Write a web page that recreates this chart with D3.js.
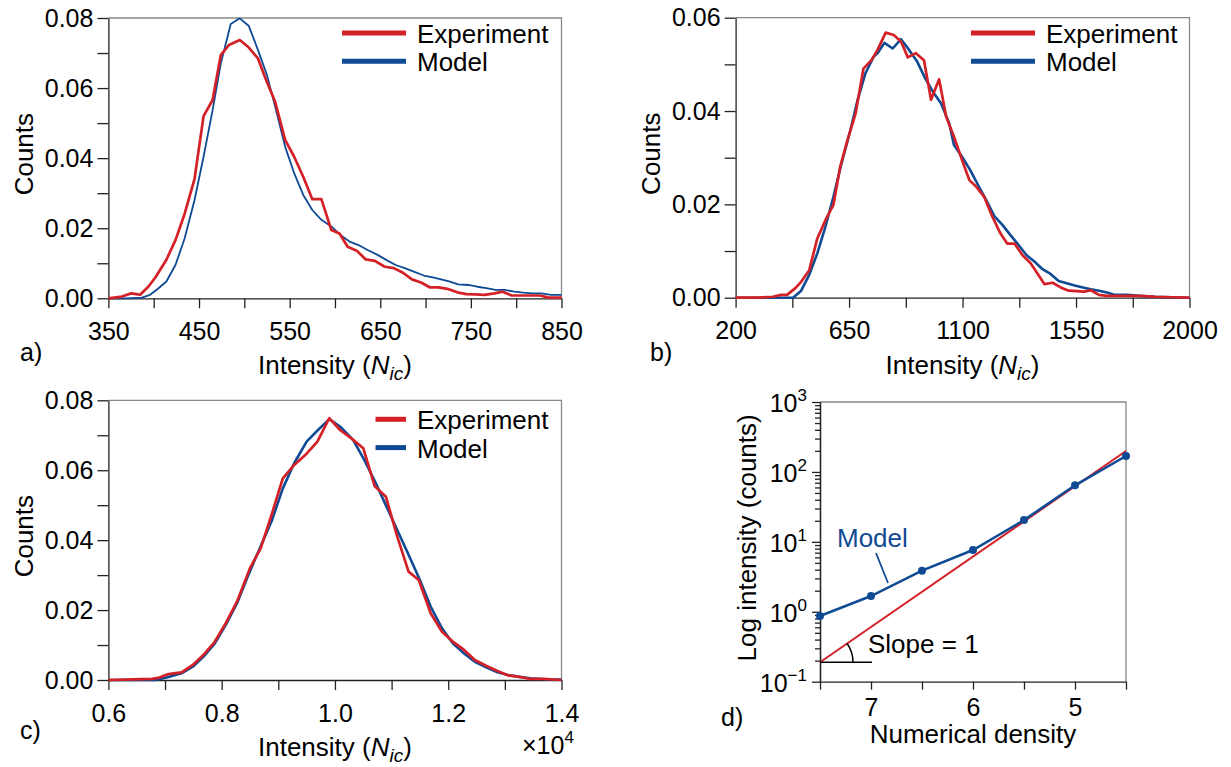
<!DOCTYPE html>
<html>
<head>
<meta charset="utf-8">
<script src="https://cdnjs.cloudflare.com/ajax/libs/d3/7.8.5/d3.min.js"></script>
<style>
  body { margin: 0; background: #fff; }
  svg text { font-family: "Liberation Sans", Arial, sans-serif; fill: #000; }
</style>
</head>
<body>
<svg id="chart" width="1231" height="767"></svg>
<script>
var red = "#d42027", blue = "#0f4a94";

// panel a: intensity vs counts
var aExp = [[350,0],[365,0.0005],[375,0.0014],[381,0.0012],[385,0.001],[394,0.0033],[402,0.006],[414,0.011],[424,0.0166],[434,0.024],[445,0.034],[455,0.052],[465,0.0566],[474,0.0694],[483,0.0723],[495,0.0737],[504,0.0718],[515,0.0685],[524,0.0623],[534,0.0561],[545,0.0452],[555,0.0404],[565,0.0347],[575,0.0283],[585,0.0283],[596,0.0195],[605,0.0185],[614,0.0147],[624,0.0136],[634,0.0111],[644,0.0107],[655,0.009],[665,0.0086],[675,0.0073],[685,0.0054],[695,0.0045],[705,0.0031],[714,0.0031],[724,0.0027],[735,0.0017],[745,0.0012],[755,0.0011],[765,0.001],[776,0.0014],[785,0.0019],[795,0.0008],[806,0.0008],[816,0.0008],[826,0.0008],[836,0.0002],[850,0.0002]];
var aModel = [[350,0],[369,0],[387,0.0002],[396,0.001],[404,0.0026],[414,0.0048],[424,0.0095],[434,0.017],[445,0.028],[455,0.0404],[465,0.0537],[474,0.067],[485,0.0783],[495,0.0799],[505,0.0777],[515,0.0709],[525,0.0637],[534,0.0547],[545,0.0433],[555,0.0357],[565,0.0295],[575,0.0252],[585,0.0224],[596,0.0205],[606,0.0181],[616,0.0162],[626,0.0152],[636,0.0138],[647,0.0124],[657,0.0109],[667,0.0095],[677,0.0086],[687,0.0076],[698,0.0065],[708,0.006],[716,0.0055],[726,0.0048],[736,0.004],[747,0.0038],[757,0.0033],[767,0.0029],[777,0.0024],[787,0.0024],[798,0.0019],[808,0.0016],[818,0.0014],[828,0.0014],[838,0.001],[850,0.001]];
var aTicksX = [350,400,450,500,550,600,650,700,750,800,850];
var aLabelsX = ["350","","450","","550","","650","","750","","850"];
var aTicksY = [0,0.01,0.02,0.03,0.04,0.05,0.06,0.07,0.08];
var aLabelsY = ["0.00","","0.02","","0.04","","0.06","","0.08"];

// panel b
var bExp = [[200,0],[285,0],[348,0.0002],[380,0.0006],[404,0.0006],[436,0.002],[460,0.0034],[492,0.0059],[524,0.0127],[556,0.0166],[588,0.0199],[615,0.0281],[644,0.0338],[676,0.0395],[707,0.0491],[739,0.0509],[763,0.0531],[795,0.0568],[827,0.0563],[856,0.0549],[883,0.0515],[915,0.0524],[947,0.0509],[975,0.0424],[1007,0.0468],[1035,0.0388],[1066,0.0345],[1098,0.0295],[1127,0.0252],[1154,0.0238],[1186,0.0216],[1218,0.0174],[1250,0.0138],[1277,0.0116],[1306,0.0116],[1338,0.0091],[1370,0.0074],[1397,0.0052],[1425,0.0029],[1457,0.0032],[1489,0.0022],[1521,0.0015],[1553,0.0014],[1582,0.0013],[1609,0.0016],[1641,0.0006],[1673,0.0004],[1737,0.0004],[1800,0.0004],[1864,0.0002],[1928,0.0001],[2000,0]];
var bModel = [[200,0],[428,0],[460,0.0015],[492,0.0049],[524,0.0095],[556,0.0152],[588,0.0216],[620,0.0288],[652,0.0352],[684,0.0424],[715,0.0481],[747,0.0516],[763,0.0524],[790,0.0546],[823,0.0534],[856,0.0554],[888,0.0531],[920,0.0506],[952,0.047],[983,0.0441],[1015,0.0416],[1047,0.0374],[1066,0.0327],[1098,0.0302],[1130,0.0274],[1162,0.0241],[1194,0.0209],[1226,0.0175],[1258,0.0156],[1290,0.0134],[1322,0.0113],[1354,0.0091],[1386,0.0077],[1417,0.0061],[1449,0.0051],[1481,0.0036],[1513,0.0031],[1545,0.0026],[1577,0.0022],[1609,0.0018],[1641,0.0015],[1673,0.0011],[1705,0.0006],[1753,0.0006],[1800,0.0004],[1864,0.0002],[1928,0.0001],[2000,0]];
var bTicksX = [200,425,650,875,1100,1325,1550,1775,2000];
var bLabelsX = ["200","","650","","1100","","1550","","2000"];
var bTicksY = [0,0.01,0.02,0.03,0.04,0.05,0.06];
var bLabelsY = ["0.00","","0.02","","0.04","","0.06"];

// panel c (intensity in units of 1e4)
var cExp = [[0.6,0],[0.644,0.0002],[0.677,0.0003],[0.69,0.0007],[0.706,0.0017],[0.729,0.0022],[0.749,0.0043],[0.768,0.0072],[0.788,0.011],[0.807,0.0162],[0.827,0.0224],[0.85,0.032],[0.869,0.0377],[0.889,0.0477],[0.908,0.0577],[0.928,0.0615],[0.948,0.0644],[0.969,0.0682],[0.99,0.0749],[1.009,0.0715],[1.029,0.0691],[1.05,0.0663],[1.07,0.0555],[1.09,0.0524],[1.11,0.041],[1.13,0.031],[1.148,0.0286],[1.169,0.0191],[1.189,0.0138],[1.208,0.011],[1.228,0.0086],[1.247,0.0057],[1.267,0.0041],[1.287,0.0026],[1.306,0.0013],[1.326,0.0009],[1.345,0.0003],[1.368,0.0003],[1.4,0]];
var cModel = [[0.6,0],[0.683,0],[0.703,0.0007],[0.729,0.0019],[0.749,0.0038],[0.768,0.0067],[0.788,0.0105],[0.807,0.0157],[0.827,0.0219],[0.846,0.0296],[0.866,0.0372],[0.889,0.0458],[0.908,0.0548],[0.928,0.062],[0.95,0.0682],[0.97,0.0715],[0.99,0.0746],[1.009,0.0725],[1.032,0.0687],[1.052,0.0629],[1.071,0.0567],[1.091,0.0496],[1.11,0.0429],[1.13,0.0358],[1.15,0.0286],[1.169,0.021],[1.189,0.0148],[1.208,0.0105],[1.228,0.0076],[1.247,0.0052],[1.267,0.0036],[1.287,0.0022],[1.306,0.0014],[1.326,0.0009],[1.345,0.0005],[1.371,0.0002],[1.4,0.0001]];
var cTicksX = [0.6,0.7,0.8,0.9,1.0,1.1,1.2,1.3,1.4];
var cLabelsX = ["0.6","","0.8","","1.0","","1.2","","1.4"];

// panel d: log intensity vs numerical density
var dModel = [[7.5,0.87],[7.0,1.68],[6.5,3.87],[6.0,7.64],[5.5,20.5],[5.0,64.3],[4.5,169]];
var dSlope = [[7.5,0.19],[4.5,199]];
var dTicksX = [7.5,7,6.5,6,5.5,5,4.5];
var dLabelsX = ["","7","","6","","5",""];
var dTicksY = [0.1,1,10,100,1000];
var dExpY = ["\u22121","0","1","2","3"];

var svg = d3.select("#chart");

function styleAxis(sel) {
  sel.select(".domain").attr("stroke", "#222").attr("stroke-width", 1.3);
  sel.selectAll(".tick line").attr("stroke", "#222").attr("stroke-width", 1.3);
  sel.selectAll(".tick text").attr("font-size", 25).attr("fill", "#000")
    .attr("font-family", "Liberation Sans, Arial, sans-serif");
}

function intensityLabel(g, cx, y) {
  var t = g.append("text").attr("x", cx).attr("y", y).attr("text-anchor", "middle").style("font-size", "26px");
  t.append("tspan").text("Intensity (");
  t.append("tspan").style("font-style", "italic").text("N");
  t.append("tspan").style("font-style", "italic").style("font-size", "19px").attr("dy", 6).text("ic");
  t.append("tspan").attr("dy", -6).text(")");
}

function histPanel(p) {
  var g = svg.append("g");
  var x = d3.scaleLinear().domain(p.xDomain).range([p.left, p.right]);
  var y = d3.scaleLinear().domain(p.yDomain).range([p.bottom, p.top]);

  // grey frame on top and right
  g.append("path")
    .attr("d", "M" + p.left + "," + p.top + "H" + p.right + "V" + p.bottom)
    .attr("fill", "none").attr("stroke", "#888").attr("stroke-width", 1.3);

  g.append("g")
    .attr("transform", "translate(0," + p.bottom + ")")
    .call(d3.axisBottom(x).tickValues(p.xTicks).tickSize(10).tickSizeOuter(0).tickPadding(14)
      .tickFormat(function(d, i) { return p.xLabels[i]; }))
    .call(styleAxis);

  g.append("g")
    .attr("transform", "translate(" + p.left + ",0)")
    .call(d3.axisLeft(y).tickValues(p.yTicks).tickSize(11).tickSizeOuter(0).tickPadding(4)
      .tickFormat(function(d, i) { return p.yLabels[i]; }))
    .call(styleAxis);

  var line = d3.line().x(d => x(d[0])).y(d => y(d[1]));

  g.append("path").datum(p.model).attr("d", line)
    .attr("fill", "none").attr("stroke", blue).attr("stroke-width", p.modelWidth).attr("stroke-linejoin", "round");
  g.append("path").datum(p.exp).attr("d", line)
    .attr("fill", "none").attr("stroke", red).attr("stroke-width", p.expWidth).attr("stroke-linejoin", "round");

  // legend
  var names = ["Experiment", "Model"], cols = [red, blue];
  names.forEach(function(n, i) {
    var ly = p.legY + i * 28.3;
    g.append("line").attr("x1", p.legX1).attr("x2", p.legX2).attr("y1", ly).attr("y2", ly)
      .attr("stroke", cols[i]).attr("stroke-width", 5);
    g.append("text").attr("x", p.legText).attr("y", ly + 10).style("font-size", "26px").text(n);
  });

  g.append("text")
    .attr("transform", "translate(" + p.countsX + "," + ((p.top + p.bottom) / 2 - 4) + ") rotate(-90)")
    .attr("text-anchor", "middle").style("font-size", "26px").text("Counts");

  intensityLabel(g, (p.left + p.right) / 2, p.bottom + 76);

  g.append("text").attr("x", p.tagX).attr("y", p.tagY).style("font-size", "25px").text(p.tag);
  return g;
}

histPanel({
  left: 108.4, right: 561.5, top: 18, bottom: 298.3,
  xDomain: [350, 850], yDomain: [0, 0.08],
  xTicks: aTicksX, xLabels: aLabelsX, yTicks: aTicksY, yLabels: aLabelsY,
  exp: aExp, model: aModel, expWidth: 2.7, modelWidth: 1.8,
  legX1: 342, legX2: 406, legText: 417, legY: 33,
  countsX: 33, tag: "a)", tagX: 20, tagY: 361
});

histPanel({
  left: 735.6, right: 1189.5, top: 17.7, bottom: 297.7,
  xDomain: [200, 2000], yDomain: [0, 0.06],
  xTicks: bTicksX, xLabels: bLabelsX, yTicks: bTicksY, yLabels: bLabelsY,
  exp: bExp, model: bModel, expWidth: 2.7, modelWidth: 2.6,
  legX1: 971, legX2: 1035, legText: 1046, legY: 33,
  countsX: 660, tag: "b)", tagX: 650, tagY: 361
});

var gc = histPanel({
  left: 108.4, right: 561.5, top: 400.3, bottom: 680,
  xDomain: [0.6, 1.4], yDomain: [0, 0.08],
  xTicks: cTicksX, xLabels: cLabelsX, yTicks: aTicksY, yLabels: aLabelsY,
  exp: cExp, model: cModel, expWidth: 2.7, modelWidth: 2.6,
  legX1: 375.5, legX2: 406, legText: 417, legY: 419.3,
  countsX: 33, tag: "c)", tagX: 20, tagY: 739
});
var mult = gc.append("text").attr("x", 522).attr("y", 754).style("font-size", "25px");
mult.append("tspan").text("\u00d710");
mult.append("tspan").attr("dy", -11).style("font-size", "17px").text("4");

// panel d
(function() {
  var left = 820, right = 1126, top = 402, bottom = 681.7;
  var g = svg.append("g");
  var x = d3.scaleLinear().domain([7.5, 4.5]).range([left, right]);
  var y = d3.scaleLog().domain([0.1, 1000]).range([bottom, top]);

  g.append("path")
    .attr("d", "M" + left + "," + top + "H" + right + "V" + bottom)
    .attr("fill", "none").attr("stroke", "#888").attr("stroke-width", 1.3);

  g.append("g")
    .attr("transform", "translate(0," + bottom + ")")
    .call(d3.axisBottom(x).tickValues(dTicksX).tickSize(8).tickSizeOuter(0).tickPadding(9)
      .tickFormat(function(d, i) { return dLabelsX[i]; }))
    .call(styleAxis);

  var minor = [];
  dTicksY.slice(0, -1).forEach(function(dec) {
    for (var k = 2; k <= 9; k++) minor.push(dec * k);
  });
  g.append("g")
    .attr("transform", "translate(" + left + ",0)")
    .call(d3.axisLeft(y).tickValues(minor).tickSize(5).tickSizeOuter(0).tickFormat(""))
    .call(styleAxis);
  g.append("g")
    .attr("transform", "translate(" + left + ",0)")
    .call(d3.axisLeft(y).tickValues(dTicksY).tickSize(8).tickSizeOuter(0).tickFormat(""))
    .call(styleAxis);

  dTicksY.forEach(function(v, i) {
    var t = g.append("text").attr("x", left - 13).attr("y", y(v) + 10)
      .attr("text-anchor", "end").style("font-size", "25px");
    t.append("tspan").text("10");
    t.append("tspan").attr("dy", -11).style("font-size", "17px").text(dExpY[i]);
  });

  var line = d3.line().x(d => x(d[0])).y(d => y(d[1]));

  g.append("path").datum(dSlope).attr("d", line)
    .attr("fill", "none").attr("stroke", red).attr("stroke-width", 2);

  g.append("path").datum(dModel).attr("d", line)
    .attr("fill", "none").attr("stroke", blue).attr("stroke-width", 2.5);
  g.selectAll("circle.pt").data(dModel).enter().append("circle")
    .attr("class", "pt").attr("cx", d => x(d[0])).attr("cy", d => y(d[1])).attr("r", 4)
    .attr("fill", blue);

  // slope marker
  var cx = x(dSlope[0][0]), cy = y(dSlope[0][1]);
  var ang = Math.atan2(y(dSlope[0][1]) - y(dSlope[1][1]), x(dSlope[1][0]) - x(dSlope[0][0]));
  var r = 33;
  g.append("line").attr("x1", cx).attr("x2", cx + 52).attr("y1", cy).attr("y2", cy)
    .attr("stroke", "#000").attr("stroke-width", 1.5);
  g.append("path")
    .attr("d", "M" + (cx + r) + "," + cy + "A" + r + "," + r + " 0 0 0 " +
      (cx + r * Math.cos(ang)) + "," + (cy - r * Math.sin(ang)))
    .attr("fill", "none").attr("stroke", "#000").attr("stroke-width", 1.5);
  g.append("text").attr("x", 868).attr("y", 653).style("font-size", "26px").text("Slope = 1");

  g.append("text").attr("x", 837).attr("y", 547).style("font-size", "26px").style("fill", blue).text("Model");
  g.append("line").attr("x1", 876).attr("y1", 553).attr("x2", 888).attr("y2", 583)
    .attr("stroke", blue).attr("stroke-width", 1.8);

  g.append("text")
    .attr("transform", "translate(756," + ((top + bottom) / 2 - 4) + ") rotate(-90)")
    .attr("text-anchor", "middle").style("font-size", "26px").text("Log intensity (counts)");
  g.append("text").attr("x", (left + right) / 2).attr("y", 743)
    .attr("text-anchor", "middle").style("font-size", "26px").text("Numerical density");
  g.append("text").attr("x", 721).attr("y", 726).style("font-size", "25px").text("d)");
})();
</script>
</body>
</html>
